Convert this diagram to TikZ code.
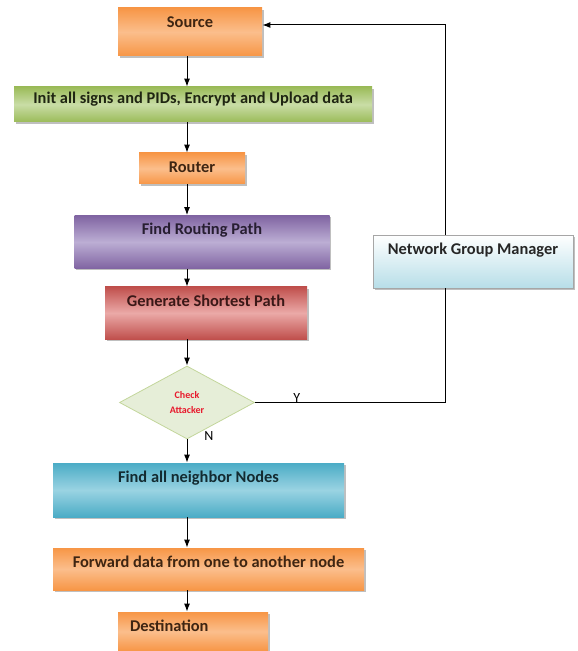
\documentclass[tikz,border=0pt]{standalone}
\usepackage{fontspec}
\setmainfont{Carlito}
\usetikzlibrary{shapes.geometric, shadows, arrows.meta}
\definecolor{FlowOrange}{HTML}{F79646}
\definecolor{FlowOrangeLight}{HTML}{FBBE8C}
\definecolor{FlowGreen}{HTML}{9BBB59}
\definecolor{FlowGreenLight}{HTML}{C9DDA6}
\definecolor{FlowPurple}{HTML}{8064A2}
\definecolor{FlowPurpleLight}{HTML}{BCAED4}
\definecolor{FlowRed}{HTML}{C0504D}
\definecolor{FlowRedLight}{HTML}{EBA9A7}
\definecolor{FlowCyan}{HTML}{4BACC6}
\definecolor{FlowCyanLight}{HTML}{9AD3E2}
\definecolor{FlowIce}{HTML}{B7DEE8}
\definecolor{FlowSage}{HTML}{E6EED8}
\definecolor{FlowAlert}{HTML}{E8192C}

\tikzset{
  box/.style={rectangle, inner sep=0pt, text height=9.75pt, text depth=#1-9.75pt,
    font=\fontsize{8.2}{9}\selectfont\bfseries,
    drop shadow={shadow xshift=0.8pt, shadow yshift=-0.8pt, opacity=0.5}},
  flow/.style={-{Latex[length=4pt,width=3pt]}, line width=0.5pt},
  plain/.style={line width=0.5pt},
}

\begin{document}
\begin{tikzpicture}[x=0.5pt, y=-0.5pt]
  \useasboundingbox (0,0) rectangle (577,651);
  \coordinate (spine) at (187,0);
  \coordinate (back) at (445,0);

  \node[box=24pt, minimum width=72pt, top color=FlowOrange, bottom color=FlowOrange, middle color=FlowOrangeLight, text=FlowOrange!25!black] (src) at (190,32) {Source};
  \node[box=17.5pt, text height=8.5pt, text depth=9pt, minimum width=179pt, top color=FlowGreen, bottom color=FlowGreen, middle color=FlowGreenLight, text=FlowGreen!20!black] (init) at (193,104.5) {Init all signs and PIDs, Encrypt and Upload data};
  \node[box=15.5pt, minimum width=53pt, top color=FlowOrange, bottom color=FlowOrange, middle color=FlowOrangeLight, text=FlowOrange!25!black] (router) at (192,168.5) {Router};
  \node[box=26.5pt, minimum width=127.5pt, top color=FlowPurple, bottom color=FlowPurple, middle color=FlowPurpleLight, text=FlowPurple!30!black] (frp) at (202,242) {Find Routing Path};
  \node[box=26pt, minimum width=101pt, top color=FlowRed, bottom color=FlowRed, middle color=FlowRedLight, text=FlowRed!30!black] (gsp) at (206,313) {Generate Shortest Path};
  \node[diamond, inner sep=0pt, minimum width=67.5pt, minimum height=36.5pt, draw=FlowGreen!60, fill=FlowSage, align=center, text=FlowAlert, font=\fontsize{5}{7.5}\selectfont\bfseries] (chk) at (187,402.5) {Check\\Attacker};
  \node[box=26.5pt, minimum width=100pt, top color=white, bottom color=FlowIce, draw=black!35, line width=0.3pt, text=black!85] (ngm) at (473,261.5) {Network Group Manager};
  \node[box=27pt, minimum width=145.5pt, top color=FlowCyan, bottom color=FlowCyan, middle color=FlowCyanLight, text=FlowCyan!25!black] (fan) at (198.5,490) {Find all neighbor Nodes};
  \node[box=21pt, minimum width=155.5pt, top color=FlowOrange, bottom color=FlowOrange, middle color=FlowOrangeLight, text=FlowOrange!25!black] (fwd) at (208.5,569) {Forward data from one to another node};
  \node[box=19.5pt, minimum width=75pt, text width=63pt, align=left, top color=FlowOrange, bottom color=FlowOrange, middle color=FlowOrangeLight, text=FlowOrange!25!black] (dest) at (193,631.5) {Destination};

  \draw[flow] (src.south -| spine) -- (init.north -| spine);
  \draw[flow] (init.south -| spine) -- (router.north -| spine);
  \draw[flow] (router.south -| spine) -- (frp.north -| spine);
  \draw[flow] (frp.south -| spine) -- (gsp.north -| spine);
  \draw[flow] (gsp.south -| spine) -- (chk.north);
  \draw[flow] (chk.south) -- (fan.north -| spine)
    node[at start, xshift=11pt, yshift=1.5pt, font=\fontsize{7}{8}\selectfont] {N};
  \draw[flow] (fan.south -| spine) -- (fwd.north -| spine);
  \draw[flow] (fwd.south -| spine) -- (dest.north -| spine);

  \draw[plain] (chk.east) -| (ngm.south -| back)
    node[pos=0.11, yshift=2pt, font=\fontsize{7}{8}\selectfont] {Y};
  \draw[flow] (ngm.north -| back) |- ([yshift=3.5pt]src.east);
\end{tikzpicture}
\end{document}
